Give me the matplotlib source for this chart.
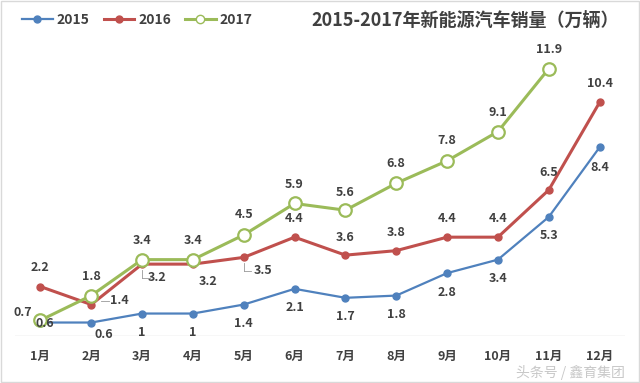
import matplotlib
matplotlib.use("Agg")
import matplotlib.pyplot as plt
from matplotlib.lines import Line2D
from matplotlib.patches import Rectangle

plt.rcParams['font.family'] = ['Noto Sans CJK SC', 'DejaVu Sans']

months = ['1月', '2月', '3月', '4月', '5月', '6月', '7月', '8月', '9月', '10月', '11月', '12月']
sales_2015 = [0.6, 0.6, 1, 1, 1.4, 2.1, 1.7, 1.8, 2.8, 3.4, 5.3, 8.4]
sales_2016 = [2.2, 1.4, 3.2, 3.2, 3.5, 4.4, 3.6, 3.8, 4.4, 4.4, 6.5, 10.4]
sales_2017 = [0.7, 1.8, 3.4, 3.4, 4.5, 5.9, 5.6, 6.8, 7.8, 9.1, 11.9]

blue = '#4F81BD'
red = '#C0504D'
green = '#9BBB59'
txt = '#404040'
lead = '#999999'

# label offsets in pixels (dx, dy)
off_2015 = [(4, -1), (13, -12), (0, -19), (0, -19), (0, -19), (0, -19),
            (0, -19), (0, -19), (0, -19), (0, -19), (0, -19), (0, -20)]
off_2016 = [(0, 19), (28, 4), (15, -13), (15, -17), (19, -13), (0, 19),
            (0, 18), (0, 18), (0, 19), (0, 19), (0, 18), (0, 19)]
off_2017 = [(-18, 8), (0, 19), (0, 19), (0, 19), (0, 20), (0, 19),
            (0, 18), (0, 20), (0, 20), (0, 19), (0, 19)]

fig = plt.figure(figsize=(6.4, 3.83), dpi=100)
ax = fig.add_axes([15 / 640, 1 - 336 / 383, 610 / 640, 292 / 383])
x = list(range(12))

ax.plot(x, sales_2015, color=blue, lw=1.6, marker='o', ms=5, zorder=3)
ax.plot(x, sales_2016, color=red, lw=2.2, marker='o', ms=5, zorder=4)
ax.plot(x[:11], sales_2017, color=green, lw=2.2, marker='o', ms=9,
        mfc='white', mec=green, mew=1.6, zorder=5)


def put_labels(vals, offs):
    for i, (v, (dx, dy)) in enumerate(zip(vals, offs)):
        ax.annotate(f'{v:g}', (i, v), xytext=(dx, dy), textcoords='offset pixels',
                    ha='center', va='center', fontsize=9, fontweight='bold',
                    color=txt, zorder=6)


put_labels(sales_2015, off_2015)
put_labels(sales_2016, off_2016)
put_labels(sales_2017, off_2017)

# little leader lines for the crowded red labels
for i in (2, 4):
    y = sales_2016[i]
    ax.plot([i, i], [y - 0.25, y - 0.6], color=lead, lw=0.6, zorder=2)
    ax.plot([i, i + 0.15], [y - 0.6, y - 0.6], color=lead, lw=0.6, zorder=2)
ax.plot([1.2, 1.35], [sales_2016[1] + 0.15] * 2, color=lead, lw=0.6)

ax.set_xlim(-0.5, 11.5)
ax.set_ylim(0, 13)
ax.axhline(0, color='#D9D9D9', lw=1)
for s in ax.spines.values():
    s.set_visible(False)
ax.set_yticks([])
ax.set_xticks(x)
ax.set_xticklabels(months, fontsize=9, fontweight='bold', color=txt)
ax.tick_params(axis='x', length=0, pad=10)

fig.text(465 / 640, 1 - 20 / 383, '2015-2017年新能源汽车销量（万辆）', ha='center', va='center',
         fontsize=13, fontweight='bold', color=txt)

handles = [Line2D([], [], color=blue, marker='o', ms=5, lw=1.6),
           Line2D([], [], color=red, marker='o', ms=5, lw=2.2),
           Line2D([], [], color=green, marker='o', ms=6, mfc='white', mec=green, lw=2.2)]
fig.legend(handles, ['2015', '2016', '2017'], loc='center left',
           bbox_to_anchor=(0.015, 1 - 20 / 383), ncol=3, frameon=False,
           prop=dict(size=10, weight='bold'), labelcolor=txt,
           handlelength=2.2, handletextpad=0.3, columnspacing=1.0)

fig.text(570 / 640, 1 - 372 / 383, '头条号 / 鑫育集团', ha='center', va='center',
         fontsize=10, color='#C8C8C8')

fig.patches.append(Rectangle((0.002, 0.003), 0.996, 0.994, transform=fig.transFigure,
                             fill=False, ec='#D9D9D9', lw=1))

fig.savefig('out.png', dpi=100)
